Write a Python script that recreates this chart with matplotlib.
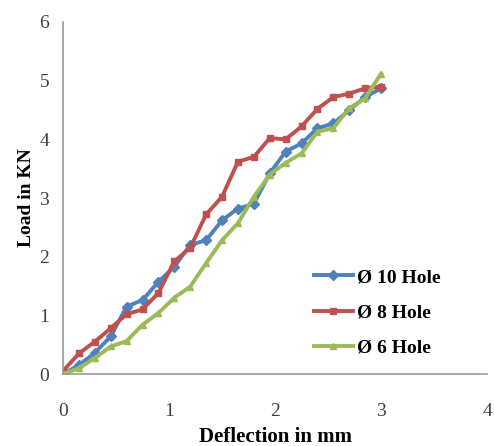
import matplotlib.pyplot as plt

# deflection (mm) and load (kN)
deflection = [0, 0.15, 0.3, 0.45, 0.6, 0.75, 0.9, 1.05, 1.2, 1.35, 1.5,
              1.65, 1.8, 1.95, 2.1, 2.25, 2.4, 2.55, 2.7, 2.85, 3.0]
load_10 = [0, 0.15, 0.36, 0.64, 1.15, 1.26, 1.57, 1.83, 2.2, 2.28, 2.62,
           2.82, 2.9, 3.42, 3.79, 3.93, 4.19, 4.27, 4.5, 4.72, 4.87]
load_8 = [0.05, 0.35, 0.55, 0.78, 1.02, 1.1, 1.38, 1.92, 2.15, 2.72, 3.02,
          3.62, 3.7, 4.02, 4.0, 4.22, 4.52, 4.72, 4.78, 4.87, 4.9]
load_6 = [0, 0.1, 0.27, 0.47, 0.56, 0.84, 1.04, 1.3, 1.49, 1.89, 2.28,
          2.57, 3.02, 3.4, 3.6, 3.76, 4.13, 4.19, 4.53, 4.7, 5.12]

labels = ["Ø 10 Hole", "Ø 8 Hole", "Ø 6 Hole"]
colors = ["#4F81BD", "#C0504D", "#9BBB59"]
markers = ["D", "s", "^"]

plt.rcParams['font.family'] = ['Liberation Serif', 'DejaVu Serif']

fig = plt.figure(figsize=(4.94, 4.46), dpi=100)
ax = fig.add_axes([0.1275, 0.1614, 0.8585, 0.7893])

for y, lab, c, m in zip([load_10, load_8, load_6], labels, colors, markers):
    ax.plot(deflection, y, color=c, marker=m, markersize=5, linewidth=2.8, label=lab)

ax.set_xlim(0, 4)
ax.set_ylim(0, 6)
ax.set_xticks([0, 1, 2, 3, 4])
ax.set_yticks([0, 1, 2, 3, 4, 5, 6])
ax.tick_params(length=0, labelsize=14, labelcolor="#404040")
ax.tick_params(axis="x", pad=21)
ax.tick_params(axis="y", pad=10)

for s in ["top", "right"]:
    ax.spines[s].set_visible(False)
for s in ["left", "bottom"]:
    ax.spines[s].set_color("#999999")
    ax.spines[s].set_linewidth(1.2)

ax.set_xlabel("Deflection in mm", fontsize=15, fontweight="bold", labelpad=5)
ax.set_ylabel("Load in KN", fontsize=14, fontweight="bold", labelpad=3)

ax.legend(loc="lower left", bbox_to_anchor=(0.55, 0.0), frameon=False,
          prop={"size": 14, "weight": "bold"}, handlelength=2.0,
          handletextpad=0.25, labelspacing=0.9)

fig.savefig("out.png", dpi=100)
